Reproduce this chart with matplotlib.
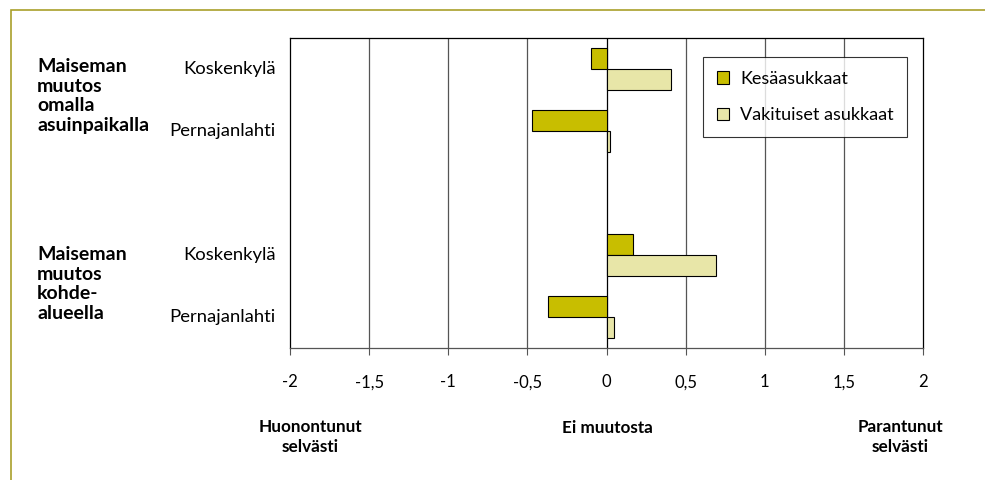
import numpy as np
import matplotlib.pyplot as plt
from matplotlib.patches import Rectangle

plt.rcParams['font.family'] = ['Lato', 'DejaVu Sans']

# data
categories = ["Koskenkylä", "Pernajanlahti", "", "Koskenkylä", "Pernajanlahti"]
kesa = [-0.10, -0.47, np.nan, 0.17, -0.37]
vakit = [0.41, 0.02, np.nan, 0.69, 0.05]
groups = ["Maiseman\nmuutos\nomalla\nasuinpaikalla", "Maiseman\nmuutos\nkohde-\nalueella"]
xticks = [-2, -1.5, -1, -0.5, 0, 0.5, 1, 1.5, 2]
xticklabels = ["-2", "-1,5", "-1", "-0,5", "0", "0,5", "1", "1,5", "2"]
scale_labels = ["Huonontunut\nselvästi", "Ei muutosta", "Parantunut\nselvästi"]

W, H = 985, 480
fig = plt.figure(figsize=(W / 100, H / 100), dpi=100)

# outer olive frame
fig.patches.append(Rectangle((11 / W, -0.1), 1.2, (H - 10) / H + 0.1, transform=fig.transFigure,
                             fill=False, edgecolor='#A9A02A', linewidth=1.2))

ax = fig.add_axes([290 / W, 1 - 348 / H, (923 - 290) / W, (348 - 38) / H])

y = np.arange(len(categories))
h = 0.34
ax.barh(y - h / 2, kesa, height=h, color='#C8BE00', edgecolor='black', linewidth=0.8,
        label='Kesäasukkaat', zorder=3)
ax.barh(y + h / 2, vakit, height=h, color='#E8E6A8', edgecolor='black', linewidth=0.8,
        label='Vakituiset asukkaat', zorder=3)

ax.set_xlim(-2, 2)
ax.set_ylim(len(categories) - 0.5, -0.5)
ax.set_xticks(xticks)
ax.set_xticklabels(xticklabels, fontsize=12)
ax.set_yticks([])
for x in xticks[1:-1]:
    ax.axvline(x, color='#555555' if x != 0 else 'black', linewidth=0.9, zorder=1)
ax.tick_params(axis='x', length=5, width=0.8, pad=14, color='#555555')
for s in ax.spines.values():
    s.set_color('black')
    s.set_linewidth(0.9)
ax.spines['bottom'].set_color('#555555')

for i, c in enumerate(categories):
    ax.text(-2.09, i, c, ha='right', va='center', fontsize=13.3)

fig.text(37 / W, 1 - 96 / H, groups[0], ha='left', va='center', fontsize=14,
         fontweight='bold', linespacing=1.17)
fig.text(37 / W, 1 - 284 / H, groups[1], ha='left', va='center', fontsize=14,
         fontweight='bold', linespacing=1.17)

fig.text(310 / W, 1 - 437 / H, scale_labels[0], ha='center', va='center', fontsize=12.3,
         fontweight='bold', linespacing=1.35)
fig.text(607 / W, 1 - 428 / H, scale_labels[1], ha='center', va='center', fontsize=12.3,
         fontweight='bold')
fig.text(900 / W, 1 - 437 / H, scale_labels[2], ha='center', va='center', fontsize=12.3,
         fontweight='bold', linespacing=1.35)

leg = ax.legend(loc='upper left', bbox_to_anchor=((703 - 290) / 633, 1 - (57 - 38) / 310),
                fontsize=13, frameon=True, fancybox=False, edgecolor='black',
                handlelength=0.7, handleheight=0.7, borderpad=0.75, labelspacing=1.15,
                handletextpad=0.6, borderaxespad=0)
leg.get_frame().set_linewidth(0.8)

fig.savefig("out.png", dpi=100)
